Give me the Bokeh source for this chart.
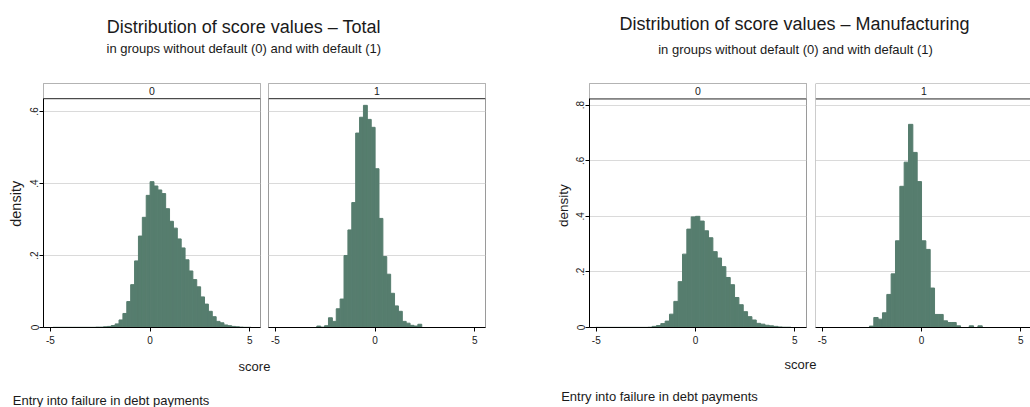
import math
from bokeh.plotting import figure
from bokeh.layouts import row, column
from bokeh.models import Range1d, LinearAxis, FixedTicker, Label, Span
from bokeh.embed import file_html
from bokeh.resources import INLINE

# ---------------- data ----------------
groups = ["0", "1"]
x_ticks = [-5, 0, 5]
x_tick_labels = ["-5", "0", "5"]

total_y_ticks = [0, 0.2, 0.4, 0.6]
total_y_tick_labels = ["0", ".2", ".4", ".6"]
manuf_y_ticks = [0, 0.2, 0.4, 0.6, 0.8]
manuf_y_tick_labels = ["0", ".2", ".4", ".6", ".8"]

# Total: histogram densities, bins of common width starting at the given left edge
total_bin_width = 0.195
total_0_first_edge = -4.875
total_0_density = [0.0005, 0.0005, 0.0005, 0.0005, 0.0005, 0.0005, 0.0005, 0.0005, 0.0005, 0.0005, 0.0005,
                   0.001, 0.001, 0.002, 0.003, 0.0055, 0.010, 0.021, 0.039, 0.072, 0.119, 0.185, 0.254,
                   0.306, 0.367, 0.405, 0.393, 0.382, 0.372, 0.330, 0.295, 0.276, 0.246, 0.221, 0.188,
                   0.157, 0.133, 0.113, 0.085, 0.065, 0.045, 0.030, 0.017, 0.013, 0.007, 0.005, 0.003,
                   0.002, 0.001, 0.0005, 0.0005]
total_1_first_edge = -2.925
total_1_density = [0.004, 0.001, 0.005, 0.027, 0.017, 0.052, 0.079, 0.200, 0.271, 0.347, 0.540, 0.584,
                   0.617, 0.578, 0.556, 0.441, 0.303, 0.197, 0.148, 0.095, 0.060, 0.045, 0.017, 0.012,
                   0.006, 0.004, 0.009]

# Manufacturing
manuf_bin_width = 0.2185
manuf_0_first_edge = -5.0255
manuf_0_density = [0.0005, 0.0005, 0.0005, 0.0005, 0.0005, 0.0005, 0.0005, 0.0005, 0.0005, 0.0005, 0.0005,
                   0.0005, 0.001, 0.004, 0.007, 0.014, 0.023, 0.048, 0.094, 0.165, 0.264, 0.354, 0.398,
                   0.400, 0.383, 0.348, 0.323, 0.273, 0.250, 0.219, 0.180, 0.154, 0.108, 0.082, 0.057,
                   0.039, 0.027, 0.015, 0.012, 0.008, 0.006, 0.004, 0.002, 0.001, 0.001]
manuf_1_first_edge = -2.622
manuf_1_density = [0.005, 0.036, 0.030, 0.053, 0.119, 0.193, 0.312, 0.508, 0.595, 0.731, 0.630, 0.525,
                   0.312, 0.281, 0.142, 0.047, 0.047, 0.024, 0.018, 0.018, 0.006, 0.0, 0.0, 0.006,
                   0.0, 0.006]

title_total = "Distribution of score values \u2013 Total"
title_manuf = "Distribution of score values \u2013 Manufacturing"
subtitle = "in groups without default (0) and with default (1)"
x_title = "score"
y_title = "density"
note = "Entry into failure in debt payments"

# ---------------- styles ----------------
FONT = "Liberation Sans"
BAR = "#567d6e"
GRID = "#dadada"
FRAME = "#9a9a9a"
DARK = "#222222"
TEXT = "#1a1a1a"
PANEL_H = 287
PANEL_TOP = 68


def make_panel(width, border_l, border_r, border_t, frame_h, x_lo, x_hi, y_top, y_plot,
               y_ticks, y_labels, group, first_edge, bin_w, dens, label_x,
               with_y_axis=False, open_right=False):
    p = figure(width=width, height=PANEL_H, x_range=Range1d(x_lo, x_hi), y_range=Range1d(0, y_top),
               output_backend="svg", toolbar_location=None, y_axis_location=None,
               min_border_left=border_l, min_border_right=border_r,
               min_border_top=border_t, min_border_bottom=PANEL_H - border_t - frame_h,
               background_fill_color="white", border_fill_color="white")
    p.xgrid.visible = False
    p.ygrid.ticker = FixedTicker(ticks=[t for t in y_ticks if t > 0])
    p.ygrid.grid_line_color = GRID
    p.ygrid.grid_line_width = 1

    lefts = [first_edge + i * bin_w for i in range(len(dens))]
    rights = [l + bin_w for l in lefts]
    p.quad(left=lefts, right=rights, bottom=0, top=dens,
           fill_color=BAR, line_color=BAR, line_width=1)

    # strip with group label
    p.quad(left=[x_lo], right=[x_hi], bottom=[y_plot], top=[y_top],
           fill_color="white", line_color=None)
    p.add_layout(Span(location=y_plot, dimension="width", line_color=DARK, line_width=1))
    p.add_layout(Label(x=label_x, y=(y_plot + y_top) / 2, text=group, text_align="center",
                       text_baseline="middle", text_font=FONT, text_font_size="10.5px",
                       text_color=TEXT))

    if open_right:
        p.outline_line_color = None
        p.add_layout(Span(location=x_lo, dimension="height", line_color=FRAME, line_width=1))
        p.add_layout(Span(location=y_top, dimension="width", line_color=FRAME, line_width=1))
    else:
        p.outline_line_color = FRAME
        p.outline_line_width = 1

    ax = p.xaxis[0]
    ax.ticker = FixedTicker(ticks=x_ticks)
    ax.major_label_overrides = dict(zip(x_ticks, x_tick_labels))
    ax.axis_line_color = "black"
    ax.major_tick_line_color = "black"
    ax.major_tick_out = 4
    ax.major_tick_in = 0
    ax.minor_tick_line_color = None
    ax.major_label_text_font = FONT
    ax.major_label_text_font_size = "10px"
    ax.major_label_text_color = TEXT
    ax.major_label_standoff = 4

    if with_y_axis:
        yax = LinearAxis(ticker=FixedTicker(ticks=y_ticks), bounds=(0, y_plot),
                         major_label_overrides=dict(zip(y_ticks, y_labels)),
                         major_label_orientation="vertical",
                         axis_line_color="black", major_tick_line_color="black",
                         major_tick_out=4, major_tick_in=0, minor_tick_line_color=None,
                         major_label_text_font=FONT, major_label_text_font_size="10px",
                         major_label_text_color=TEXT, major_label_standoff=1)
        p.add_layout(yax, "left")
    return p


def side_fig(width, x_from, label_x, label_y, size):
    f = figure(width=width, height=PANEL_H, x_range=Range1d(x_from, x_from + width),
               y_range=Range1d(PANEL_TOP + PANEL_H, PANEL_TOP),
               output_backend="svg", toolbar_location=None, x_axis_location=None,
               y_axis_location=None, min_border=0, outline_line_color=None,
               background_fill_color="white", border_fill_color="white")
    f.grid.visible = False
    f.add_layout(Label(x=label_x, y=label_y, text=y_title, angle=math.pi / 2, text_align="center",
                       text_baseline="middle", text_font=FONT, text_font_size=size,
                       text_color=TEXT))
    return f


# Total panels: frame 246 px tall, 363 px per density unit, ~19.93 px per score unit
t_top, t_plot = 0.6777, 0.6355
t_xlo, t_xhi = -5.35, 5.54
L0 = side_fig(25, 0, 15.0, 209.5, "14.5px")
F1 = make_panel(243, 18, 8, 15, 246, t_xlo, t_xhi, t_top, t_plot, total_y_ticks, total_y_tick_labels,
                groups[0], total_0_first_edge, total_bin_width, total_0_density,
                (t_xlo + t_xhi) / 2, with_y_axis=True)
F2 = make_panel(252, 0, 35, 15, 246, t_xlo, t_xhi, t_top, t_plot, total_y_ticks, total_y_tick_labels,
                groups[1], total_1_first_edge, total_bin_width, total_1_density,
                (t_xlo + t_xhi) / 2)

# Manufacturing panels: frame 247 px tall, 281.25 px per density unit
m_top, m_plot = 0.878, 0.8224
m_xlo, m_xhi = -5.34, 5.59
m_pxu = 217 / (m_xhi - m_xlo)
R0 = side_fig(52, 520, 562.5, 211.7, "13.5px")
F3 = make_panel(243, 17, 9, 12, 247, m_xlo, m_xhi, m_top, m_plot, manuf_y_ticks, manuf_y_tick_labels,
                groups[0], manuf_0_first_edge, manuf_bin_width, manuf_0_density,
                (m_xlo + m_xhi) / 2, with_y_axis=True)
F4 = make_panel(215, 0, 0, 12, 247, m_xlo, m_xlo + 215 / m_pxu, m_top, m_plot, manuf_y_ticks,
                manuf_y_tick_labels, groups[1], manuf_1_first_edge, manuf_bin_width, manuf_1_density,
                (m_xlo + m_xhi) / 2, open_right=True)


def text_fig(height, y_from, y_to):
    f = figure(width=1030, height=height, x_range=Range1d(0, 1030), y_range=Range1d(y_to, y_from),
               output_backend="svg", toolbar_location=None, x_axis_location=None,
               y_axis_location=None, min_border=0, outline_line_color=None,
               background_fill_color="white", border_fill_color="white")
    f.grid.visible = False
    return f


def add_text(f, x, y, text, size, align="left"):
    f.add_layout(Label(x=x, y=y, text=text, text_align=align, text_baseline="alphabetic",
                       text_font=FONT, text_font_size=size, text_color=TEXT))


T = text_fig(PANEL_TOP, 0, PANEL_TOP)
add_text(T, 243.3, 26.8, title_total, "18px", "center")
add_text(T, 243.3, 47.5, subtitle, "13px", "center")
add_text(T, 794.0, 23.0, title_manuf, "18px", "center")
add_text(T, 795.0, 49.0, subtitle, "13px", "center")

B = text_fig(52, PANEL_TOP + PANEL_H, 407)
add_text(B, 254.0, 366.0, x_title, "13px", "center")
add_text(B, 800.0, 364.0, x_title, "13px", "center")
add_text(B, 12.3, 400.0, note, "13px", "left")
add_text(B, 560.7, 396.0, note, "13px", "left")

layout = column(T, row(L0, F1, F2, R0, F3, F4, spacing=0), B, spacing=0)

open("out.html", "w").write(file_html(layout, INLINE))
